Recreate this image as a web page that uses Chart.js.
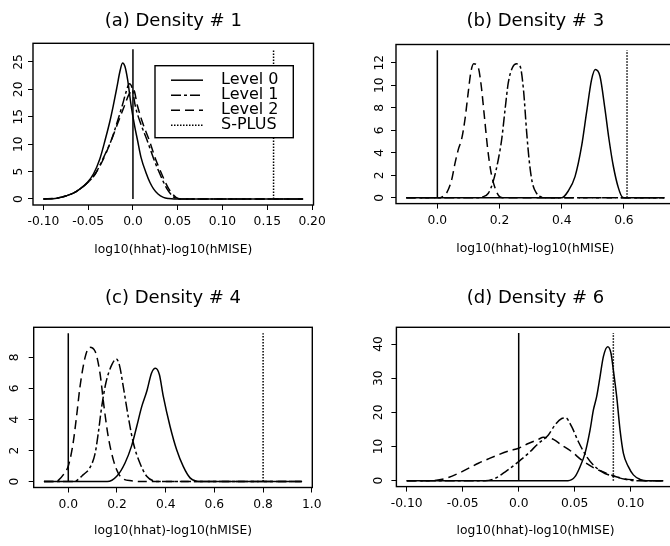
<!DOCTYPE html>
<html>
<head>
<meta charset="utf-8">
<script src="https://cdn.jsdelivr.net/npm/chart.js@4.4.1/dist/chart.umd.min.js"></script>
<style>
html, body { margin:0; padding:0; background:#fff; width:670px; height:546px; overflow:hidden; position:relative; }
canvas { position:absolute; }
</style>
</head>
<body>
<canvas id="ca" width="335" height="273" style="left:0px;top:0px"></canvas>
<canvas id="cb" width="345" height="273" style="left:335px;top:0px"></canvas>
<canvas id="cc" width="335" height="273" style="left:0px;top:273px"></canvas>
<canvas id="cd" width="345" height="273" style="left:335px;top:273px"></canvas>
<script>
// ---------------- DATA ----------------
const xAxisTitle = 'log10(hhat)-log10(hMISE)';
const legendLabels = ['Level 0', 'Level 1', 'Level 2', 'S-PLUS'];

// (a) Density # 1
const aTitle = '(a) Density # 1';
const aXTicks = [-0.10, -0.05, 0, 0.05, 0.10, 0.15, 0.20];
const aXTickLabels = ['-0.10', '-0.05', '0.0', '0.05', '0.10', '0.15', '0.20'];
const aYTicks = [0, 5, 10, 15, 20, 25];
const aLevel0 = [[-0.1,0],[-0.085,0.15],[-0.074,0.6],[-0.066,1.1],[-0.059,1.85],[-0.051,3.0],[-0.044,4.6],[-0.037,7.3],[-0.031,10.8],[-0.026,14.0],[-0.022,17.0],[-0.018,20.3],[-0.0145,23.3],[-0.0116,24.8],[-0.009,24.2],[-0.006,21.8],[-0.002,17.0],[0.002,13.2],[0.005,10.8],[0.009,7.6],[0.015,4.6],[0.019,3.0],[0.023,1.85],[0.028,0.9],[0.034,0.3],[0.040,0.08],[0.046,0],[0.19,0]];
const aLevel1 = [[-0.1,0],[-0.085,0.15],[-0.074,0.6],[-0.066,1.1],[-0.059,1.85],[-0.051,2.9],[-0.042,4.6],[-0.033,7.5],[-0.024,10.8],[-0.018,13.8],[-0.012,17.0],[-0.0075,19.6],[-0.0041,21.0],[-0.0008,20.2],[0.0026,17.0],[0.009,13.6],[0.0156,10.8],[0.023,7.4],[0.030,4.6],[0.038,1.85],[0.046,0.3],[0.052,0],[0.19,0]];
const aLevel2 = [[-0.1,0],[-0.085,0.15],[-0.074,0.6],[-0.066,1.1],[-0.059,1.85],[-0.051,2.9],[-0.042,4.6],[-0.033,7.3],[-0.024,10.8],[-0.017,13.8],[-0.0095,17.0],[-0.004,19.2],[0.0007,19.9],[0.005,17.0],[0.011,13.8],[0.018,10.8],[0.025,7.4],[0.032,4.6],[0.040,1.85],[0.048,0.3],[0.054,0],[0.19,0]];
const aSplusX = 0.157;
const aLineTop = 27.3;

// (b) Density # 3
const bTitle = '(b) Density # 3';
const bXTicks = [0, 0.2, 0.4, 0.6];
const bXTickLabels = ['0.0', '0.2', '0.4', '0.6'];
const bYTicks = [0, 2, 4, 6, 8, 10, 12];
const bLevel0 = [[-0.1,0],[0.40,0],[0.421,0.6],[0.443,1.9],[0.464,4.6],[0.48,7.6],[0.496,10.5],[0.508,11.4],[0.523,10.8],[0.539,7.9],[0.552,5.2],[0.566,2.8],[0.582,0.9],[0.595,0.06],[0.605,0],[0.73,0]];
const bLevel1 = [[-0.1,0],[0.13,0],[0.143,0.06],[0.164,0.4],[0.18,1.5],[0.196,3.4],[0.207,5.2],[0.218,7.9],[0.228,10.2],[0.242,11.6],[0.255,11.9],[0.266,11.7],[0.277,9.6],[0.287,5.9],[0.295,3.4],[0.305,1.4],[0.319,0.4],[0.335,0.06],[0.35,0],[0.73,0]];
const bLevel2 = [[-0.1,0],[0.005,0],[0.014,0.06],[0.03,0.44],[0.046,1.6],[0.057,3.1],[0.0675,4.3],[0.078,5.2],[0.089,7.0],[0.099,9.3],[0.108,11.2],[0.117,11.9],[0.13,11.7],[0.14,10.2],[0.151,7.3],[0.162,4.3],[0.173,2.2],[0.184,1.0],[0.198,0.15],[0.21,0],[0.73,0]];
const bSplusX = 0.61;
const bLineTop = 13.1;

// (c) Density # 4
const cTitle = '(c) Density # 4';
const cXTicks = [0, 0.2, 0.4, 0.6, 0.8, 1.0];
const cXTickLabels = ['0.0', '0.2', '0.4', '0.6', '0.8', '1.0'];
const cYTicks = [0, 2, 4, 6, 8];
const cLevel0 = [[-0.1,0],[0.16,0],[0.199,0.34],[0.233,1.2],[0.26,2.3],[0.281,3.55],[0.301,4.8],[0.322,5.8],[0.342,7.0],[0.358,7.3],[0.374,6.9],[0.39,5.5],[0.418,3.55],[0.445,2.05],[0.472,0.98],[0.5,0.24],[0.527,0.02],[0.54,0],[0.96,0]];
const cLevel1 = [[-0.1,0],[0.025,0],[0.034,0.06],[0.062,0.45],[0.089,0.9],[0.11,1.8],[0.123,3.1],[0.137,4.8],[0.155,6.4],[0.178,7.5],[0.197,7.9],[0.21,7.5],[0.226,6.1],[0.246,4.2],[0.267,2.5],[0.294,1.2],[0.322,0.34],[0.356,0.02],[0.37,0],[0.96,0]];
const cLevel2 = [[-0.1,0],[-0.05,0],[-0.041,0.08],[-0.02,0.45],[0,1.0],[0.018,2.3],[0.034,4.2],[0.048,6.1],[0.069,8.0],[0.087,8.65],[0.11,8.4],[0.13,7.0],[0.147,4.8],[0.164,2.9],[0.185,1.4],[0.205,0.55],[0.226,0.17],[0.26,0.05],[0.3,0],[0.96,0]];
const cSplusX = 0.80;
const cLineTop = 9.56;

// (d) Density # 6
const dTitle = '(d) Density # 6';
const dXTicks = [-0.10, -0.05, 0, 0.05, 0.10];
const dXTickLabels = ['-0.10', '-0.05', '0.0', '0.05', '0.10'];
const dYTicks = [0, 10, 20, 30, 40];
const dLevel0 = [[-0.1,0],[0.044,0],[0.0503,1.2],[0.0548,4.1],[0.0592,8.0],[0.0637,14.8],[0.0667,20.7],[0.0696,24.6],[0.0726,30.4],[0.0756,36.3],[0.0795,39.2],[0.0824,37.3],[0.0845,32.4],[0.0875,24.6],[0.0905,14.8],[0.0935,8.0],[0.0979,4.1],[0.1024,1.7],[0.1083,0.4],[0.114,0],[0.129,0]];
const dLevel1 = [[-0.1,0],[-0.03,0],[-0.021,0.7],[-0.012,2.6],[0,5.6],[0.0086,8.0],[0.0176,10.9],[0.0265,13.4],[0.0324,16.3],[0.0384,18.2],[0.042,18.4],[0.0473,15.8],[0.0533,11.4],[0.0607,7.0],[0.0682,4.1],[0.077,2.1],[0.086,1.2],[0.095,0.4],[0.104,0],[0.129,0]];
const dLevel2 = [[-0.1,0],[-0.08,0],[-0.072,0.2],[-0.063,0.9],[-0.051,2.6],[-0.036,5.1],[-0.021,7.2],[-0.009,8.7],[0,9.5],[0.0086,10.9],[0.0176,12.1],[0.022,12.7],[0.027,12.5],[0.031,12.1],[0.0384,10.4],[0.0473,8.5],[0.0563,6.0],[0.068,3.6],[0.08,2.0],[0.092,0.7],[0.104,0.2],[0.113,0],[0.129,0]];
const dSplusX = 0.0845;
const dLineTop = 43.2;

// ---------------- STYLE / LAYOUT ----------------
const FONT = 'DejaVu Sans';
Chart.defaults.font.family = FONT;
Chart.defaults.color = '#000';

const dashes = {
  'Level 0': [],
  'Level 1': [10, 3, 3, 3],
  'Level 2': [9, 5],
  'S-PLUS': [1.5, 1.5],
  'hMISE': []
};

// page geometry of each panel (canvas box, plot frame, text centres)
const geom = {
  a: { cx: 0,   cy: 0,   cw: 335, ch: 273, l: 33,    t: 43.3,  r: 313.5, b: 205,   titleY: 21.3,  axisTitleY: 249.5, yLabelX: 17.5,
       xMin: -0.1116, xMax: 0.2016, yMin: -1.1, yMax: 28.4 },
  b: { cx: 335, cy: 0,   cw: 345, ch: 273, l: 396,   t: 44.5,  r: 674.6, b: 203.6, titleY: 21.3,  axisTitleY: 248.5, yLabelX: 379,
       xMin: -0.133, xMax: 0.763, yMin: -0.52, yMax: 13.62 },
  c: { cx: 0,   cy: 273, cw: 335, ch: 273, l: 33.7,  t: 327.3, r: 312.3, b: 487.5, titleY: 298.3, axisTitleY: 531,   yLabelX: 14,
       xMin: -0.142, xMax: 1.002, yMin: -0.38, yMax: 9.94 },
  d: { cx: 335, cy: 273, cw: 345, ch: 273, l: 396.4, t: 327.3, r: 674.6, b: 486.6, titleY: 298.3, axisTitleY: 531,   yLabelX: 377.7,
       xMin: -0.1092, xMax: 0.1392, yMin: -1.73, yMax: 44.9 }
};

const TITLE_SIZE = 18, TICK_SIZE = 12.3, AXIS_TITLE_SIZE = 12.3;
const LINE_W = 1.5;

// ---------------- PLUGINS ----------------
const rFrame = {
  id: 'rFrame',
  afterDraw(chart, args, opts) {
    const { ctx, chartArea: a } = chart;
    ctx.save();
    ctx.strokeStyle = '#000';
    ctx.lineWidth = 1.4;
    ctx.setLineDash([]);
    ctx.strokeRect(a.left, a.top, a.right - a.left, a.bottom - a.top);
    const ys = chart.scales.y;
    ctx.font = TICK_SIZE + 'px "' + FONT + '"';
    ctx.fillStyle = '#000';
    ctx.textAlign = 'center';
    ctx.textBaseline = 'alphabetic';
    opts.ticks.forEach((v) => {
      const py = ys.getPixelForValue(v);
      ctx.save();
      ctx.translate(opts.labelX + 0.3645 * TICK_SIZE, py);
      ctx.rotate(-Math.PI / 2);
      ctx.fillText(String(v), 0, 0);
      ctx.restore();
    });
    ctx.restore();
  }
};

const rLegend = {
  id: 'rLegend',
  afterDraw(chart, args, opts) {
    if (!opts || !opts.show) return;
    const { ctx, chartArea: a } = chart;
    const bx = a.left + opts.dx, by = a.top + opts.dy;
    ctx.save();
    ctx.fillStyle = '#fff';
    ctx.fillRect(bx, by, opts.w, opts.h);
    ctx.strokeStyle = '#000';
    ctx.lineWidth = 1.4;
    ctx.setLineDash([]);
    ctx.strokeRect(bx, by, opts.w, opts.h);
    const items = legendLabels.map(lbl => chart.data.datasets.find(d => d.label === lbl)).filter(Boolean);
    items.forEach((d, i) => {
      const y = by + opts.rowTop + i * opts.rowGap;
      ctx.setLineDash(d.borderDash || []);
      ctx.lineWidth = d.borderWidth;
      ctx.strokeStyle = d.borderColor;
      ctx.beginPath();
      ctx.moveTo(bx + opts.lineX0, y);
      ctx.lineTo(bx + opts.lineX1, y);
      ctx.stroke();
      ctx.setLineDash([]);
      ctx.font = opts.fontSize + 'px "' + FONT + '"';
      ctx.fillStyle = '#000';
      ctx.textAlign = 'left';
      ctx.textBaseline = 'middle';
      ctx.fillText(d.label, bx + opts.textX, y);
    });
    ctx.restore();
  }
};

// ---------------- BUILD ----------------
function curve(label, pts) {
  return {
    label,
    data: pts.map(p => ({ x: p[0], y: p[1] })),
    borderColor: '#000',
    borderWidth: LINE_W,
    borderDash: dashes[label],
    pointRadius: 0,
    fill: false,
    cubicInterpolationMode: 'monotone'
  };
}
function vline(label, x, top) {
  return {
    label,
    data: [{ x: x, y: 0 }, { x: x, y: top }],
    borderColor: '#000',
    borderWidth: LINE_W,
    borderDash: dashes[label],
    pointRadius: 0,
    fill: false,
    tension: 0
  };
}

function makePanel(id, g, title, xTicks, xTickLabels, yTicks, l0, l1, l2, splusX, lineTop, withLegend) {
  const titleTop = (g.titleY - g.cy) - TITLE_SIZE * 1.2 / 2;
  const titleBottom = (g.t - g.cy) - titleTop - TITLE_SIZE * 1.2;
  const axisTitleBottom = (g.cy + g.ch) - g.axisTitleY - AXIS_TITLE_SIZE * 1.2 / 2;
  const tickPad = 17.3 - 5 - TICK_SIZE * 1.2 / 2;
  return new Chart(document.getElementById(id), {
    type: 'line',
    data: {
      datasets: [
        vline('hMISE', 0, lineTop),
        curve('Level 0', l0),
        curve('Level 1', l1),
        curve('Level 2', l2),
        vline('S-PLUS', splusX, lineTop)
      ]
    },
    options: {
      responsive: false,
      animation: false,
      events: [],
      layout: { padding: { left: 0, top: 0, bottom: 0, right: (g.cx + g.cw) - g.r } },
      plugins: {
        legend: { display: false },
        tooltip: { enabled: false },
        title: {
          display: true, text: title, fullSize: false, color: '#000',
          font: { size: TITLE_SIZE, family: FONT, weight: 'normal', lineHeight: 1.2 },
          padding: { top: titleTop, bottom: titleBottom }
        },
        rFrame: { ticks: yTicks, labelX: g.yLabelX - g.cx },
        rLegend: withLegend ? { show: true, dx: 122, dy: 22.4, w: 138.3, h: 72, rowTop: 14.5, rowGap: 15,
                                lineX0: 16, lineX1: 48, textX: 66, fontSize: 16 } : { show: false }
      },
      scales: {
        x: {
          type: 'linear', position: 'bottom', min: g.xMin, max: g.xMax, bounds: 'data',
          afterBuildTicks: s => { s.ticks = xTicks.map(v => ({ value: v })); },
          afterFit: s => { s.height = (g.cy + g.ch) - g.b; },
          ticks: { autoSkip: false, maxRotation: 0, minRotation: 0, padding: tickPad, color: '#000',
                   font: { size: TICK_SIZE, family: FONT },
                   callback: (v, i) => xTickLabels[i] },
          grid: { display: true, drawOnChartArea: false, drawTicks: true, tickLength: 5, color: '#000', lineWidth: 1 },
          border: { display: false },
          title: { display: true, text: xAxisTitle, color: '#000',
                   font: { size: AXIS_TITLE_SIZE, family: FONT, lineHeight: 1.2 },
                   padding: { top: 0, bottom: axisTitleBottom } }
        },
        y: {
          type: 'linear', position: 'left', min: g.yMin, max: g.yMax, bounds: 'data',
          afterBuildTicks: s => { s.ticks = yTicks.map(v => ({ value: v })); },
          afterFit: s => { s.width = g.l - g.cx; },
          ticks: { display: false },
          grid: { display: true, drawOnChartArea: false, drawTicks: true, tickLength: 5, color: '#000', lineWidth: 1 },
          border: { display: false }
        }
      }
    },
    plugins: [rFrame, rLegend]
  });
}

makePanel('ca', geom.a, aTitle, aXTicks, aXTickLabels, aYTicks, aLevel0, aLevel1, aLevel2, aSplusX, aLineTop, true);
makePanel('cb', geom.b, bTitle, bXTicks, bXTickLabels, bYTicks, bLevel0, bLevel1, bLevel2, bSplusX, bLineTop, false);
makePanel('cc', geom.c, cTitle, cXTicks, cXTickLabels, cYTicks, cLevel0, cLevel1, cLevel2, cSplusX, cLineTop, false);
makePanel('cd', geom.d, dTitle, dXTicks, dXTickLabels, dYTicks, dLevel0, dLevel1, dLevel2, dSplusX, dLineTop, false);
</script>
</body>
</html>
